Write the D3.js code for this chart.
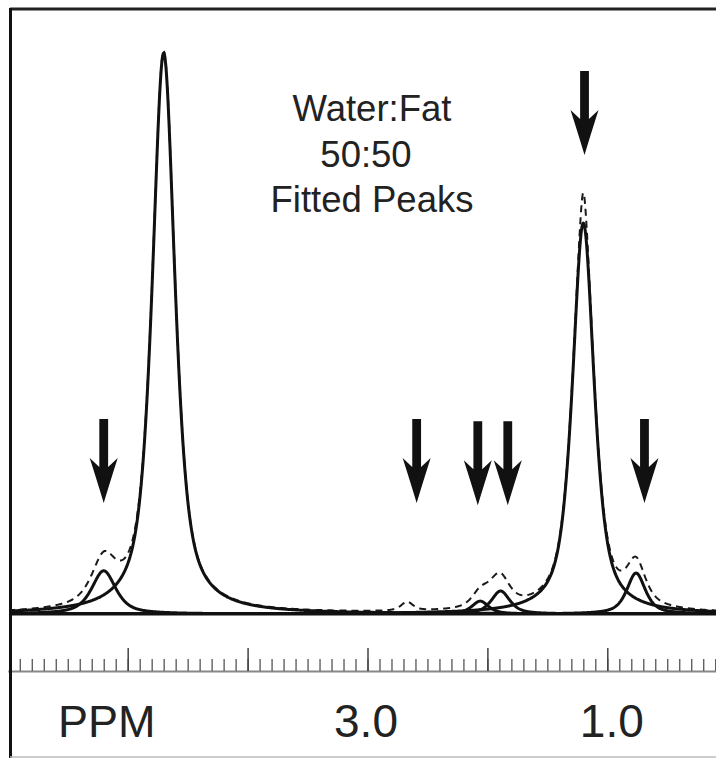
<!DOCTYPE html>
<html>
<head>
<meta charset="utf-8">
<script src="https://cdn.jsdelivr.net/npm/d3@7"></script>
<style>
  body { margin: 0; background: #fff; }
  svg { display: block; }
  text { font-family: "Liberation Sans", Arial, Helvetica, sans-serif; fill: #222; }
</style>
</head>
<body>
<div id="chart"></div>
<script>
// fitted peaks (ppm, height in % of water peak, half width in ppm)
var fitPpm    = [5.20, 4.70, 2.06, 1.89, 1.20, 0.76];
var fitHeight = [7.7, 100, 2.3, 4.1, 69.7, 7.3];
var fitWidth  = [0.12, 0.113, 0.083, 0.092, 0.108, 0.092];

// measured spectrum = fitted peaks + what the fit left over
var residPpm    = [2.67, 1.94, 1.20];
var residHeight = [1.6, 1.8, 5.0];
var residWidth  = [0.06, 0.12, 0.03];

// arrows (ppm, tip height)
var arrowPpm = [5.20, 2.59, 2.08, 1.83, 1.19, 0.69];
var arrowTip = [19.8, 19.8, 19.4, 19.4, 81.8, 19.8];

var minorTicks = d3.range(1, 60).map(function(d) { return d / 10; });
var majorTicks = [1, 2, 3, 4, 5];
var labelTicks = [3, 1];
var titleLines = ['Water:Fat', '50:50', 'Fitted Peaks'];

var width = 716, height = 758;
var baseY = 614;

var svg = d3.select('#chart').append('svg')
  .attr('width', width)
  .attr('height', height);

var x = d3.scaleLinear().domain([6, 0]).range([7.8, 727.2]);
var y = d3.scaleLinear().domain([0, 100]).range([baseY, 53]);

// pseudo-voigt line shape
var shape = function(p, c, h, w) {
  var t = (p - c) / w;
  return h * (0.7 / (1 + t * t) + 0.3 * Math.exp(-Math.LN2 * t * t));
}

var grid = d3.range(6, -0.001, -0.004);

var line = d3.line()
  .x(function(d) { return x(d[0]); })
  .y(function(d) { return y(d[1]); });

svg.append('clipPath').attr('id', 'plotclip')
  .append('rect')
  .attr('x', 10).attr('y', 9)
  .attr('width', width - 10).attr('height', baseY - 9);

var plot = svg.append('g').attr('clip-path', 'url(#plotclip)');

// measured (dashed)
var measured = grid.map(function(p) {
  var s = 0;
  for (i = 0; i < fitPpm.length; i++) s += shape(p, fitPpm[i], fitHeight[i], fitWidth[i]);
  for (i = 0; i < residPpm.length; i++) s += shape(p, residPpm[i], residHeight[i], residWidth[i]);
  return [p, s];
});

plot.append('path')
  .attr('d', line(measured))
  .attr('fill', 'none')
  .attr('stroke', '#1a1a1a')
  .attr('stroke-width', 2)
  .attr('stroke-dasharray', '7,5');

// fitted peaks (solid)
plot.selectAll('.fit')
  .data(fitPpm)
  .enter()
  .append('path')
  .attr('class', 'fit')
  .attr('d', function(c, i) {
    return line(grid.map(function(p) { return [p, shape(p, c, fitHeight[i], fitWidth[i])]; }));
  })
  .attr('fill', 'none')
  .attr('stroke', '#111')
  .attr('stroke-width', 3)
  .attr('stroke-linejoin', 'round');

// baseline
svg.append('line')
  .attr('x1', 10).attr('x2', width)
  .attr('y1', baseY).attr('y2', baseY)
  .attr('stroke', '#111')
  .attr('stroke-width', 3);

// arrows
var arrowPath = 'M-4.4,-84 L4.4,-84 L4.4,-36 L14,-45 Q6,-20 0,0 Q-6,-20 -14,-45 L-4.4,-36 Z';
svg.selectAll('.arrow')
  .data(arrowPpm)
  .enter()
  .append('path')
  .attr('class', 'arrow')
  .attr('d', arrowPath)
  .attr('transform', function(d, i) { return 'translate(' + x(d) + ',' + y(arrowTip[i]) + ')'; })
  .attr('fill', '#111');

// title
svg.selectAll('.title')
  .data(titleLines)
  .enter()
  .append('text')
  .attr('class', 'title')
  .attr('x', function(d, i) { return i == 1 ? 366 : 372; })
  .attr('y', function(d, i) { return 121 + i * 45.5; })
  .attr('text-anchor', 'middle')
  .style('font-size', '36.5px')
  .text(function(d) { return d; });

// ppm axis
var axisY = 671;
var minorAxis = svg.append('g')
  .attr('transform', 'translate(0,' + axisY + ')')
  .call(d3.axisTop(x).tickValues(minorTicks).tickSize(12).tickSizeOuter(0).tickFormat(''));
minorAxis.selectAll('line').attr('stroke', '#555').attr('stroke-width', 1.3);
minorAxis.select('.domain').attr('stroke', '#888').attr('stroke-width', 2);

var majorAxis = svg.append('g')
  .attr('transform', 'translate(0,' + axisY + ')')
  .call(d3.axisTop(x).tickValues(majorTicks).tickSize(23).tickSizeOuter(0).tickFormat(''));
majorAxis.selectAll('line').attr('stroke', '#444').attr('stroke-width', 1.5);
majorAxis.select('.domain').remove();

var labelAxis = svg.append('g')
  .attr('transform', 'translate(0,' + axisY + ')')
  .call(d3.axisBottom(x).tickValues(labelTicks).tickSize(0).tickPadding(33).tickFormat(d3.format('.1f')));
labelAxis.select('.domain').remove();
labelAxis.selectAll('text')
  .attr('fill', '#222')
  .attr('dx', function(d) { return d == 1 ? 4 : -2; })
  .style('font-size', '46px')
  .style('font-family', '"Liberation Sans", Arial, sans-serif');

svg.append('text')
  .attr('x', 58)
  .attr('y', 737)
  .style('font-size', '45px')
  .text('PPM');

// frame
svg.append('line').attr('x1', 10).attr('x2', width).attr('y1', 9).attr('y2', 9)
  .attr('stroke', '#222').attr('stroke-width', 3);
svg.append('line').attr('x1', 10.5).attr('x2', 10.5).attr('y1', 8).attr('y2', height)
  .attr('stroke', '#111').attr('stroke-width', 3);
svg.append('line').attr('x1', 10).attr('x2', width).attr('y1', 757).attr('y2', 757)
  .attr('stroke', '#bbb').attr('stroke-width', 1.5);
</script>
</body>
</html>
